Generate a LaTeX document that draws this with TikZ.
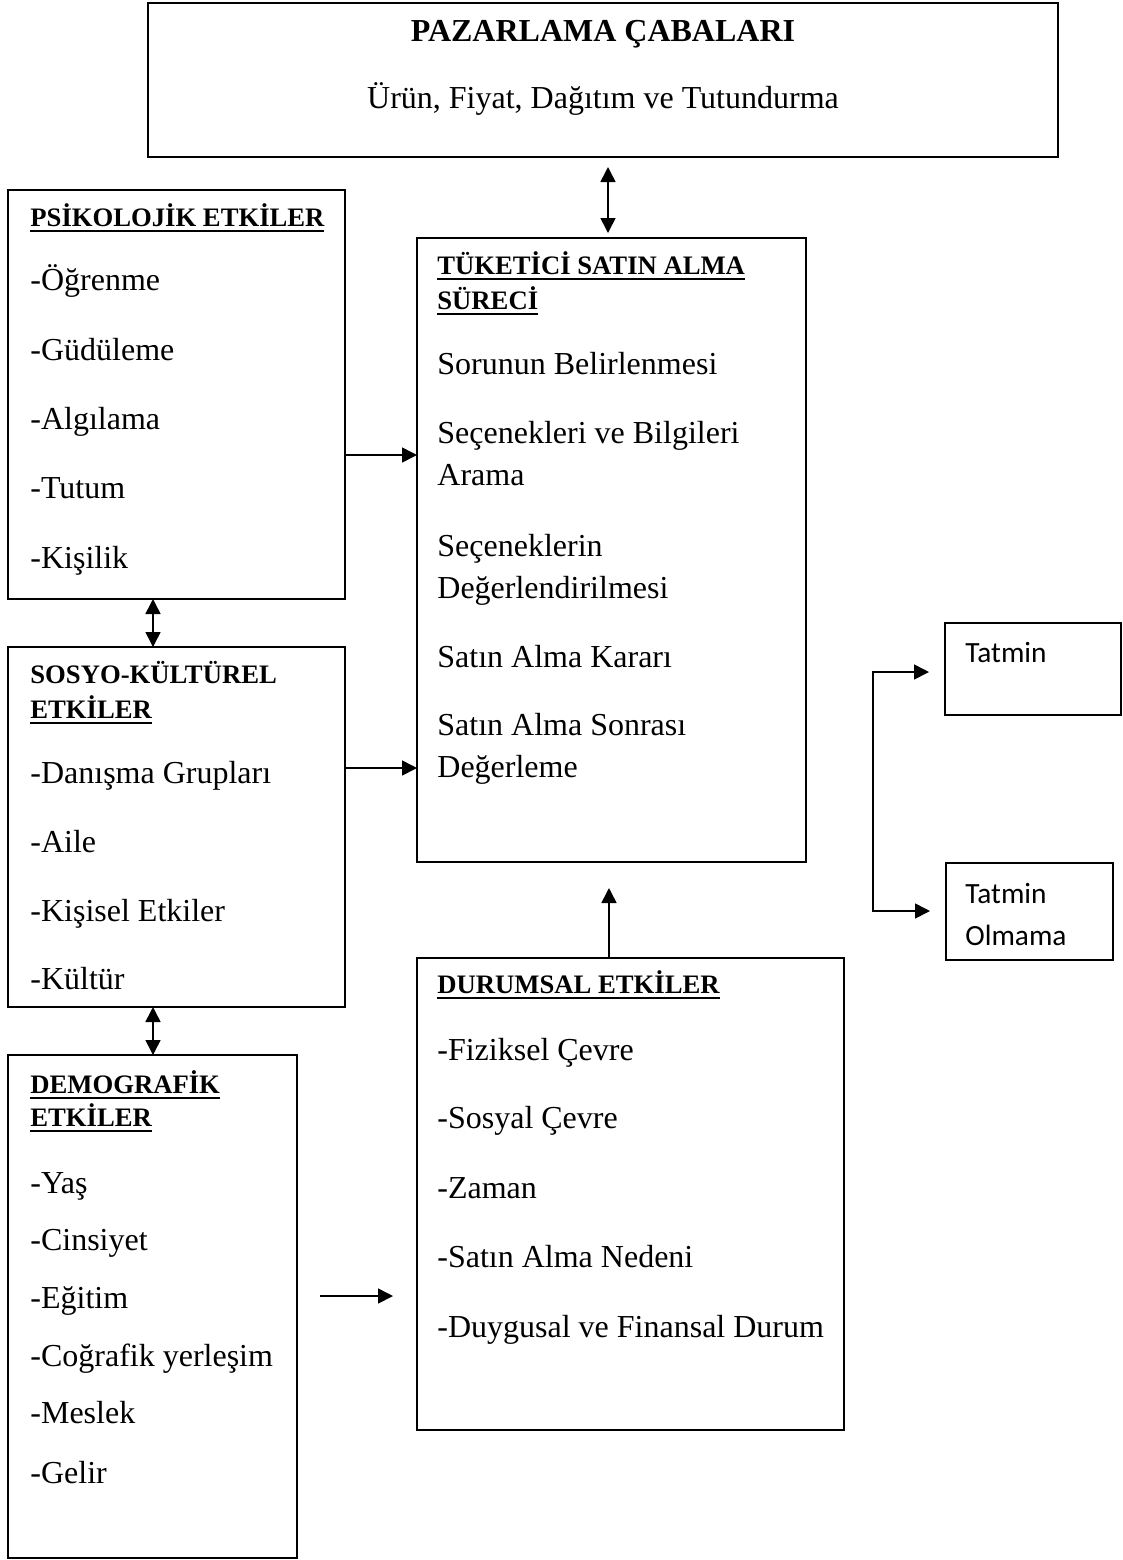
\documentclass[tikz,border=0pt]{standalone}
\usepackage{fontspec}
\setmainfont{Liberation Serif}
\newfontfamily\calfont{Carlito}
\usetikzlibrary{arrows.meta}
\newcommand\myul[1]{\setbox0\hbox{#1}\leavevmode\rlap{\rule[-2.8pt]{\wd0}{1pt}}\box0}
\begin{document}
\begin{tikzpicture}[x=0.5pt,y=-0.5pt,
  box/.style={draw, line width=0.9pt, inner sep=0pt, outer sep=0pt, anchor=north west},
  txt/.style={anchor=base west, inner sep=0pt, font=\fontsize{16pt}{19pt}\selectfont},
  ctxt/.style={anchor=base, inner sep=0pt, font=\fontsize{16pt}{19pt}\selectfont},
  htxt/.style={anchor=base west, inner sep=0pt, font=\fontsize{13.33pt}{16pt}\selectfont\bfseries},
  stxt/.style={anchor=base west, inner sep=0pt, font=\calfont\fontsize{14.67pt}{17pt}\selectfont},
  tip/.tip={Triangle[length=7.5pt,width=7.5pt]},
  arr/.style={line width=0.8pt, -tip},
  darr/.style={line width=0.8pt, tip-tip}]
\useasboundingbox (0,0) rectangle (1123,1560);

% boxes
\node[box, minimum width=455pt, minimum height=77pt] (top) at (148,3) {};
\node[box, minimum width=168.5pt, minimum height=204.5pt] (psik) at (8,190) {};
\node[box, minimum width=194.5pt, minimum height=312pt] (tuk) at (417,238) {};
\node[box, minimum width=168.5pt, minimum height=180pt] (sosyo) at (8,647) {};
\node[box, minimum width=144.5pt, minimum height=251.5pt] (demo) at (8,1055) {};
\node[box, minimum width=213.5pt, minimum height=236pt] (durum) at (417,958) {};
\node[box, minimum width=88pt, minimum height=46pt] (tat) at (945,623) {};
\node[box, minimum width=83.5pt, minimum height=48.5pt] (tol) at (946,863) {};

% top box text
\node[ctxt] (ttl) at (603,41) {\bfseries PAZARLAMA ÇABALARI};
\node[ctxt] (tsub) at (603,108) {Ürün, Fiyat, Dağıtım ve Tutundurma};

% psikolojik
\node[htxt] (ph) at (30,226) {\myul{PSİKOLOJİK ETKİLER}};
\node[txt] (p1) at (30,290) {-Öğrenme};
\node[txt] (p2) at (30,360) {-Güdüleme};
\node[txt] (p3) at (30,429) {-Algılama};
\node[txt] (p4) at (30,498) {-Tutum};
\node[txt] (p5) at (30,568) {-Kişilik};

% tuketici
\node[htxt] (th1) at (437,274) {\myul{TÜKETİCİ SATIN ALMA}};
\node[htxt] (th2) at (437,309) {\myul{SÜRECİ}};
\node[txt] (t1) at (437,374) {Sorunun Belirlenmesi};
\node[txt] (t2a) at (437,443) {Seçenekleri ve Bilgileri};
\node[txt] (t2b) at (437,485) {Arama};
\node[txt] (t3a) at (437,556) {Seçeneklerin};
\node[txt] (t3b) at (437,598) {Değerlendirilmesi};
\node[txt] (t4) at (437,667) {Satın Alma Kararı};
\node[txt] (t5a) at (437,735) {Satın Alma Sonrası};
\node[txt] (t5b) at (437,777) {Değerleme};

% sosyo-kulturel
\node[htxt] (sh1) at (30,683) {SOSYO-KÜLTÜREL};
\node[htxt] (sh2) at (30,718) {\myul{ETKİLER}};
\node[txt] (s1) at (30,783) {-Danışma Grupları};
\node[txt] (s2) at (30,852) {-Aile};
\node[txt] (s3) at (30,921) {-Kişisel Etkiler};
\node[txt] (s4) at (30,989) {-Kültür};

% demografik
\node[htxt] (dh1) at (30,1093) {\myul{DEMOGRAFİK}};
\node[htxt] (dh2) at (30,1126) {\myul{ETKİLER}};
\node[txt] (d1) at (30,1193) {-Yaş};
\node[txt] (d2) at (30,1250) {-Cinsiyet};
\node[txt] (d3) at (30,1308) {-Eğitim};
\node[txt] (d4) at (30,1366) {-Coğrafik yerleşim};
\node[txt] (d5) at (30,1423) {-Meslek};
\node[txt] (d6) at (30,1483) {-Gelir};

% durumsal
\node[htxt] (uh) at (437,993) {\myul{DURUMSAL ETKİLER}};
\node[txt] (u1) at (437,1060) {-Fiziksel Çevre};
\node[txt] (u2) at (437,1128) {-Sosyal Çevre};
\node[txt] (u3) at (437,1198) {-Zaman};
\node[txt] (u4) at (437,1267) {-Satın Alma Nedeni};
\node[txt] (u5) at (437,1337) {-Duygusal ve Finansal Durum};

% tatmin boxes text
\node[stxt] (ta) at (965,662) {Tatmin};
\node[stxt] (tb1) at (965,903) {Tatmin};
\node[stxt] (tb2) at (965,945) {Olmama};

% connectors
\draw[darr, shorten <=5pt, shorten >=2.5pt] (608,0 |- top.south) -- (608,0 |- tuk.north);
\draw[arr] (psik.east |- 0,455) -- (tuk.west |- 0,455);
\draw[arr] (sosyo.east |- 0,768) -- (tuk.west |- 0,768);
\draw[darr] (153,0 |- psik.south) -- (153,0 |- sosyo.north);
\draw[darr] (153,0 |- sosyo.south) -- (153,0 |- demo.north);
\coordinate (fa1) at (320,1296);
\coordinate (fa2) at (393,1296);
\draw[arr] (fa1) -- (fa2);
\draw[arr, shorten >=13pt] (609,0 |- durum.north) -- (609,0 |- tuk.south);
\coordinate (br1) at (873,672);
\coordinate (br2) at (873,911);
\draw[darr, shorten <=8pt, shorten >=8pt] (tat.west |- br1) -- (br1) -- (br2) -- (tol.west |- br2);
\end{tikzpicture}
\end{document}
